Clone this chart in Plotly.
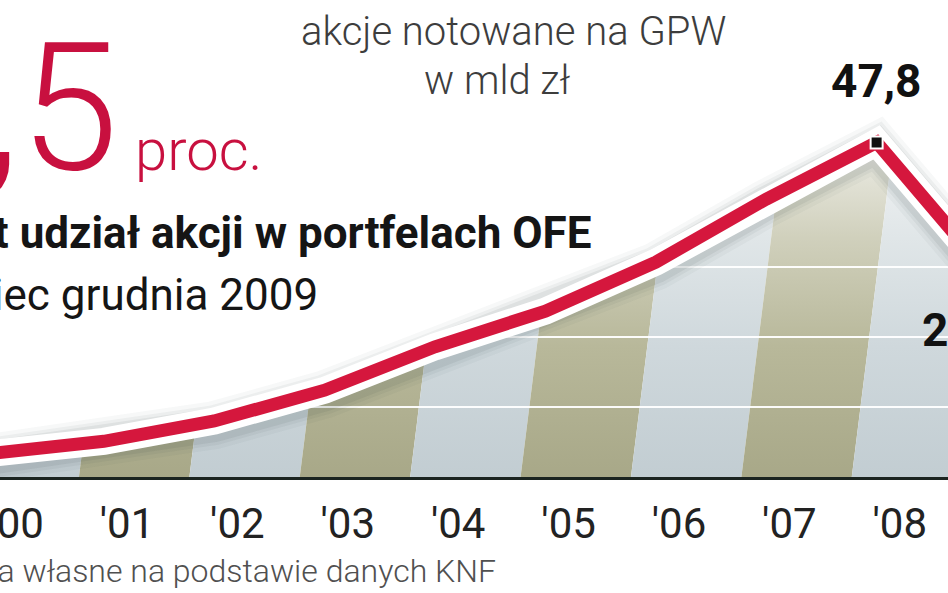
import plotly.graph_objects as go

# ---------------- data ----------------
years = [1999, 2000, 2001, 2002, 2003, 2004, 2005, 2006, 2007, 2008]
values = [3.4, 5.1, 8.0, 12.4, 18.6, 23.7, 30.7, 39.7, 47.8, 29.3]   # mld zł, end of year
labelled_years = [2007, 2008]
tick_years = [2000, 2001, 2002, 2003, 2004, 2005, 2006, 2007, 2008]
tick_labels = ["'00", "'01", "'02", "'03", "'04", "'05", "'06", "'07", "'08"]
grid_values = [10, 20, 30]
band_years = list(range(1999, 2010))

title_line1 = "akcje notowane na GPW"
title_line2 = "w mld zł"
big_number = "30,5"
big_unit = "proc."
head_bold = "jest udział akcji w portfelach OFE"
head_regular = "na koniec grudnia 2009"
source = "Źródło: opracowania własne na podstawie danych KNF"

# ---------------- geometry / style ----------------
W, H = 948, 593
PLOT_BOTTOM = 477
X0, DX = 16.6, 110.4          # pixel of '00 tick, pixels per year
PX_PER_UNIT = 7.0
YMAX = PLOT_BOTTOM / PX_PER_UNIT
END_OFFSET = 0.79             # points sit at the end of each year
BAND_OFFSET = 0.065
SLANT = 0.0079                # band slant (years per value unit)
BAND_TOP = 62

RED = "#d5173d"
BIG_RED = "#c8103f"
KHAKI = ["#a8a888", "#b8b89a", "#d0d0bc", "#eaeae2", "#ffffff"]
BLUE = ["#c2cdd2", "#cfd8dc", "#e0e6e8", "#f0f2f3", "#ffffff"]


def xi(year):
    return year - 2000


def px2paper(px):
    return px / W


def py2paper(py):
    return (PLOT_BOTTOM - py) / PLOT_BOTTOM


fig = go.Figure()

# background bands (alternating, slanted, vertical gradient)
for yr in band_years:
    i = xi(yr) + BAND_OFFSET
    x0, x1 = i - 0.5, i + 0.5
    sh = SLANT * BAND_TOP
    cols = KHAKI if yr % 2 == 1 else BLUE
    fig.add_trace(go.Scatter(
        x=[x0, x1, x1 + sh, x0 + sh, x0],
        y=[0, 0, BAND_TOP, BAND_TOP, 0],
        mode="lines", line=dict(width=0), fill="toself",
        fillgradient=dict(type="vertical", start=0, stop=BAND_TOP,
                          colorscale=[[0, cols[0]], [0.3, cols[1]], [0.55, cols[2]],
                                      [0.75, cols[3]], [1, cols[4]]]),
        hoverinfo="skip", showlegend=False))

# white gridlines
for g in grid_values:
    fig.add_trace(go.Scatter(x=[-1, 10], y=[g, g], mode="lines",
                             line=dict(color="rgba(255,255,255,0.95)", width=2),
                             hoverinfo="skip", showlegend=False))

xs = [xi(y) + END_OFFSET for y in years]

# white mask above the line
fig.add_trace(go.Scatter(
    x=xs + [xs[-1], xs[0]], y=values + [YMAX + 5, YMAX + 5],
    mode="lines", line=dict(width=0), fill="toself", fillcolor="white",
    hoverinfo="skip", showlegend=False))

# soft shadow
for w, a in [(48, 0.035), (40, 0.05), (34, 0.07)]:
    fig.add_trace(go.Scatter(x=xs, y=[v - 0.6 for v in values], mode="lines",
                             line=dict(color=f"rgba(40,50,50,{a})", width=w),
                             hoverinfo="skip", showlegend=False))

# white border + red line
fig.add_trace(go.Scatter(x=xs, y=values, mode="lines",
                         line=dict(color="white", width=27),
                         hoverinfo="skip", showlegend=False))
fig.add_trace(go.Scatter(x=xs, y=values, mode="lines",
                         line=dict(color=RED, width=13),
                         hoverinfo="skip", showlegend=False))

# markers + value labels
mx = [xi(y) + END_OFFSET for y in labelled_years]
mv = [values[years.index(y)] for y in labelled_years]
fig.add_trace(go.Scatter(x=mx, y=mv, mode="markers",
                         marker=dict(symbol="square", size=12, color="#111111",
                                     line=dict(color="white", width=2)),
                         hoverinfo="skip", showlegend=False))

annotations = []
for yr, v in zip(labelled_years, mv):
    txt = f"{v:.1f}".replace(".", ",")
    px = X0 + DX * (xi(yr) + END_OFFSET)
    py = PLOT_BOTTOM - v * PX_PER_UNIT
    if yr == 2007:
        px_l, py_l = px, py - 61
    else:
        px_l, py_l = px - 20, py + 58
    annotations.append(dict(x=px2paper(px_l), y=py2paper(py_l), xref="paper", yref="paper",
                            text=txt, showarrow=False, xanchor="center", yanchor="middle",
                            font=dict(family="Roboto", size=46, color="#111111", weight=700)))


def txt_ann(px, py, text, size, color, weight, xanchor="center"):
    return dict(x=px2paper(px), y=py2paper(py), xref="paper", yref="paper", text=text,
                showarrow=False, xanchor=xanchor, yanchor="middle",
                font=dict(family="Roboto", size=size, color=color, weight=weight))


annotations += [
    txt_ann(513, 31, title_line1, 40, "#3d3d3d", 300),
    txt_ann(497, 81, title_line2, 40, "#3d3d3d", 300),
    txt_ann(120, 108, big_number, 178, BIG_RED, 300, "right"),
    txt_ann(133, 150, big_unit, 58, BIG_RED, 300, "left"),
    txt_ann(593, 233, head_bold, 44, "#151515", 700, "right"),
    txt_ann(320, 295, head_regular, 44, "#151515", 400, "right"),
    txt_ann(498, 571, source, 32, "#505050", 300, "right"),
]

fig.update_layout(
    width=W, height=H,
    margin=dict(l=0, r=0, t=0, b=H - PLOT_BOTTOM, pad=0, autoexpand=False),
    paper_bgcolor="white", plot_bgcolor="white",
    showlegend=False,
    annotations=annotations,
    xaxis=dict(range=[-X0 / DX, (W - X0) / DX], tickvals=[xi(y) for y in tick_years],
               ticktext=tick_labels, showgrid=False, zeroline=False,
               showline=True, linecolor="#1b2420", linewidth=3, ticks="",
               ticklabelstandoff=8, ticklabeloverflow="allow", automargin=False,
               tickfont=dict(family="Roboto", size=42, color="#222222"),
               fixedrange=True),
    yaxis=dict(range=[0, YMAX], visible=False, fixedrange=True, automargin=False),
)

fig.write_html("out.html", config={"displayModeBar": False},
               post_script="document.body.style.margin='0';")
